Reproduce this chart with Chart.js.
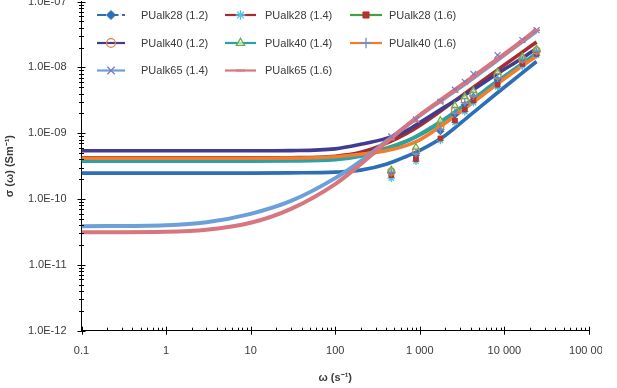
<!DOCTYPE html>
<html>
<head>
<meta charset="utf-8">
<script src="https://cdn.jsdelivr.net/npm/chart.js@4.4.1/dist/chart.umd.min.js"></script>
<style>
  html, body { margin: 0; padding: 0; background: #fff; overflow: hidden; }
  #clip { position: relative; width: 602px; height: 388px; overflow: hidden; background: #fff; }
  #wrap { position: absolute; left: 0; top: -20px; width: 640px; height: 408px; }
</style>
</head>
<body>
<div id="clip"><div id="wrap"><canvas id="c" width="640" height="408"></canvas></div></div>
<script>
// ---------- data ----------
const X_TICKS = [0.1, 1, 10, 100, 1000, 10000, 100000];
const X_TICK_LABELS = ['0.1', '1', '10', '100', '1 000', '10 000', '100 000'];
const Y_TICKS = [1e-12, 1e-11, 1e-10, 1e-9, 1e-8, 1e-7];
const Y_TICK_LABELS = ['1.0E-12', '1.0E-11', '1.0E-10', '1.0E-09', '1.0E-08', '1.0E-07'];

const SERIES_NAMES = ['PUalk28 (1.2)', 'PUalk28 (1.4)', 'PUalk28 (1.6)',
                      'PUalk40 (1.2)', 'PUalk40 (1.4)', 'PUalk40 (1.6)',
                      'PUalk65 (1.4)', 'PUalk65 (1.6)'];

// fitted curves (lines)
const OMEGA_FIT = [0.1, 1, 3, 10, 30, 100, 200, 400, 700, 1000, 2000, 4000, 8000, 16000, 24000];
const FIT_28_12 = [2.48e-10, 2.48e-10, 2.48e-10, 2.48e-10, 2.50e-10, 2.57e-10, 2.75e-10, 3.38e-10, 4.47e-10, 5.50e-10, 9.27e-10, 1.92e-9, 3.98e-9, 8.11e-9, 1.23e-8];
const FIT_28_14 = [4.23e-10, 4.23e-10, 4.23e-10, 4.23e-10, 4.25e-10, 4.47e-10, 5.13e-10, 7.01e-10, 9.93e-10, 1.31e-9, 2.45e-9, 4.66e-9, 8.85e-9, 1.68e-8, 2.43e-8];
const FIT_28_16 = [3.95e-10, 3.95e-10, 3.95e-10, 3.95e-10, 3.97e-10, 4.17e-10, 4.63e-10, 5.90e-10, 7.64e-10, 9.43e-10, 1.62e-9, 3.02e-9, 5.83e-9, 1.11e-8, 1.58e-8];
const FIT_40_12 = [5.41e-10, 5.41e-10, 5.41e-10, 5.41e-10, 5.45e-10, 5.79e-10, 6.78e-10, 8.36e-10, 1.10e-9, 1.46e-9, 2.54e-9, 4.35e-9, 7.82e-9, 1.37e-8, 1.94e-8];
const FIT_40_14 = [3.76e-10, 3.76e-10, 3.76e-10, 3.76e-10, 3.78e-10, 3.95e-10, 4.47e-10, 5.70e-10, 7.51e-10, 9.60e-10, 1.67e-9, 3.13e-9, 6.04e-9, 1.13e-8, 1.66e-8];
const FIT_40_16 = [4.17e-10, 4.17e-10, 4.17e-10, 4.17e-10, 4.19e-10, 4.40e-10, 4.79e-10, 5.41e-10, 6.55e-10, 7.93e-10, 1.43e-9, 2.77e-9, 5.44e-9, 1.04e-8, 1.49e-8];
const FIT_65_14 = [3.86e-11, 4.00e-11, 4.44e-11, 5.96e-11, 9.36e-11, 2.08e-10, 3.76e-10, 7.52e-10, 1.31e-9, 1.86e-9, 3.47e-9, 6.48e-9, 1.25e-8, 2.43e-8, 3.55e-8];
const FIT_65_16 = [3.13e-11, 3.19e-11, 3.42e-11, 4.36e-11, 7.09e-11, 1.69e-10, 3.38e-10, 7.26e-10, 1.31e-9, 1.89e-9, 3.59e-9, 6.83e-9, 1.30e-8, 2.51e-8, 3.81e-8];

// measured points (markers)
const OMEGA_MEAS = [460, 900, 1750, 2600, 3400, 4300, 8300, 16300, 24000];
const MEAS_28_12 = [2.48e-10, 4.63e-10, 1.07e-9, 1.92e-9, 2.72e-9, 3.59e-9, 6.48e-9, 1.25e-8, 1.71e-8];
const MEAS_28_14 = [2.08e-10, 3.76e-10, 7.79e-10, 1.46e-9, 2.13e-9, 2.92e-9, 5.08e-9, 1.05e-8, 1.54e-8];
const MEAS_28_16 = [2.31e-10, 4.03e-10, 8.35e-10, 1.56e-9, 2.29e-9, 3.13e-9, 5.45e-9, 1.13e-8, 1.60e-8];
const MEAS_40_12 = [2.61e-10, 5.32e-10, 1.27e-9, 2.21e-9, 3.13e-9, 3.99e-9, 7.44e-9, 1.34e-8, 1.80e-8];
const MEAS_40_14 = [2.75e-10, 6.11e-10, 1.56e-9, 2.63e-9, 3.59e-9, 4.42e-9, 8.55e-9, 1.44e-8, 1.90e-8];
const MEAS_40_16 = [2.52e-10, 4.96e-10, 1.14e-9, 2.06e-9, 2.92e-9, 3.72e-9, 6.94e-9, 1.30e-8, 1.74e-8];
const MEAS_65_14 = [8.95e-10, 1.62e-9, 3.02e-9, 4.58e-9, 6.04e-9, 7.98e-9, 1.54e-8, 2.60e-8, 3.68e-8];
const MEAS_65_16 = [8.06e-10, 1.51e-9, 2.92e-9, 4.27e-9, 5.64e-9, 7.19e-9, 1.34e-8, 2.51e-8, 3.68e-8];

// ---------- styles ----------
const FITS = [FIT_28_12, FIT_28_14, FIT_28_16, FIT_40_12, FIT_40_14, FIT_40_16, FIT_65_14, FIT_65_16];
const MEASS = [MEAS_28_12, MEAS_28_14, MEAS_28_16, MEAS_40_12, MEAS_40_14, MEAS_40_16, MEAS_65_14, MEAS_65_16];
const LINE_COLORS = ['#2C6FB6', '#A52C32', '#45A043', '#403C90', '#2BA2A6', '#F07D30', '#6BA0D8', '#D8767F'];
const LINE_WIDTHS = [3.6, 3.6, 3.6, 3.6, 3.6, 3.6, 4, 4];
const MARKERS = [
  { style: 'rectRot', r: 3.5, fill: '#2C6FB6', stroke: '#2C6FB6', bw: 1 },
  { style: 'star', r: 3.8, fill: 'rgba(0,0,0,0)', stroke: '#4DC3E6', bw: 1.3 },
  { style: 'rect', r: 3.3, fill: '#B5332E', stroke: '#B5332E', bw: 1 },
  { style: 'circle', r: 3.4, fill: 'rgba(0,0,0,0)', stroke: '#E8803A', bw: 1.3 },
  { style: 'triangle', r: 3.8, fill: 'rgba(255,255,255,0.6)', stroke: '#6AAE45', bw: 1.3 },
  { style: 'cross', r: 4.2, fill: 'rgba(0,0,0,0)', stroke: '#6690C8', bw: 1.3 },
  { style: 'crossRot', r: 4.2, fill: 'rgba(0,0,0,0)', stroke: '#7C7CC4', bw: 1.3 },
  { style: 'line', r: 3.5, fill: 'rgba(0,0,0,0)', stroke: '#D8767F', bw: 2 }
];
const FONT = '"Liberation Sans", Arial, sans-serif';
const TXT = '#3a3a3a';

const datasets = [];
FITS.forEach((arr, i) => {
  datasets.push({
    label: SERIES_NAMES[i] + ' fit',
    data: OMEGA_FIT.map((w, k) => ({ x: w, y: arr[k] })),
    showLine: true,
    borderColor: LINE_COLORS[i],
    borderWidth: LINE_WIDTHS[i],
    pointRadius: 0,
    cubicInterpolationMode: 'monotone',
    fill: false,
    order: 20 - i
  });
});
MEASS.forEach((arr, i) => {
  const m = MARKERS[i];
  datasets.push({
    label: SERIES_NAMES[i],
    data: OMEGA_MEAS.map((w, k) => ({ x: w, y: arr[k] })),
    showLine: false,
    pointStyle: m.style,
    pointRadius: m.r,
    pointBackgroundColor: m.fill,
    pointBorderColor: m.stroke,
    pointBorderWidth: m.bw,
    order: 8 - i
  });
});

// tick marks (major crossing, minor) plugin
const tickPlugin = {
  id: 'ticks',
  afterDraw(chart) {
    const ctx = chart.ctx, sx = chart.scales.x, sy = chart.scales.y, a = chart.chartArea;
    ctx.save();
    ctx.strokeStyle = '#000';
    ctx.lineWidth = 1;
    ctx.beginPath();
    for (let d = -1; d <= 4; d++) {
      for (let k = 1; k <= 9; k++) {
        const x = Math.round(sx.getPixelForValue(k * Math.pow(10, d))) + 0.5;
        if (k === 1) { ctx.moveTo(x, a.bottom - 4); ctx.lineTo(x, a.bottom + 4); }
        else { ctx.moveTo(x, a.bottom - 3); ctx.lineTo(x, a.bottom); }
      }
    }
    const xe = Math.round(sx.getPixelForValue(100000)) + 0.5;
    ctx.moveTo(xe, a.bottom - 4); ctx.lineTo(xe, a.bottom + 4);
    for (let d = -12; d <= -8; d++) {
      for (let k = 1; k <= 9; k++) {
        const y = Math.round(sy.getPixelForValue(k * Math.pow(10, d))) + 0.5;
        if (k === 1) { ctx.moveTo(a.left - 4, y); ctx.lineTo(a.left + 4, y); }
        else { ctx.moveTo(a.left - 2.5, y); ctx.lineTo(a.left + 2.5, y); }
      }
    }
    const ye = Math.round(sy.getPixelForValue(1e-7)) + 0.5;
    ctx.moveTo(a.left - 4, ye); ctx.lineTo(a.left + 4, ye);
    ctx.stroke();
    ctx.restore();
  }
};

// legend drawn inside plot area, 3 columns
const OFFY = 20;
const LEG_ROWS = [15, 43, 70.5];
const LEG_COLS = [{ x0: 97, x1: 125, tx: 141 }, { x0: 225, x1: 256, tx: 265 }, { x0: 350, x1: 382, tx: 389 }];
const legendPlugin = {
  id: 'innerLegend',
  afterDraw(chart) {
    const ctx = chart.ctx;
    ctx.save();
    SERIES_NAMES.forEach((name, i) => {
      const c = LEG_COLS[i % 3];
      const y = LEG_ROWS[Math.floor(i / 3)] + OFFY;
      ctx.strokeStyle = LINE_COLORS[i];
      ctx.lineWidth = 2.2;
      ctx.setLineDash(i === 0 ? [9, 3.5] : []);
      ctx.beginPath();
      ctx.moveTo(c.x0, y); ctx.lineTo(c.x1, y);
      ctx.stroke();
      ctx.setLineDash([]);
      const m = MARKERS[i];
      ctx.fillStyle = m.fill;
      ctx.strokeStyle = m.stroke;
      ctx.lineWidth = m.bw;
      Chart.helpers.drawPoint(ctx, { pointStyle: m.style, radius: m.r + 1, borderWidth: m.bw, rotation: 0 }, (c.x0 + c.x1) / 2, y);
      ctx.fillStyle = TXT;
      ctx.font = '11px ' + FONT;
      ctx.textBaseline = 'middle';
      ctx.textAlign = 'left';
      ctx.fillText(name, c.tx, y + 0.5);
    });
    ctx.restore();
  }
};

new Chart(document.getElementById('c'), {
  type: 'scatter',
  data: { datasets },
  options: {
    responsive: false,
    animation: false,
    devicePixelRatio: 1,
    layout: { padding: { top: 19.2, left: 0, right: 51, bottom: 0 } },
    plugins: { legend: { display: false }, tooltip: { enabled: false } },
    scales: {
      x: {
        type: 'logarithmic',
        min: 0.1, max: 100000,
        afterBuildTicks: s => { s.ticks = X_TICKS.map(v => ({ value: v })); },
        afterFit: s => { s.height = 57.3; },
        grid: { display: false, drawTicks: false },
        border: { display: true, color: '#000', width: 1 },
        ticks: {
          autoSkip: false, maxRotation: 0, padding: 14,
          color: TXT, font: { family: FONT, size: 11 },
          callback: (v, i) => X_TICK_LABELS[i]
        },
        title: {
          display: true, text: 'ω (s⁻¹)', color: TXT,
          font: { family: FONT, size: 11, weight: 'bold' },
          padding: { top: 0, bottom: 3.4 }
        }
      },
      y: {
        type: 'logarithmic',
        min: 1e-12, max: 1e-7,
        afterBuildTicks: s => { s.ticks = Y_TICKS.map(v => ({ value: v })); },
        afterFit: s => { s.width = 81.5; },
        grid: { display: false, drawTicks: false },
        border: { display: true, color: '#000', width: 1 },
        ticks: {
          autoSkip: false, padding: 15,
          color: TXT, font: { family: FONT, size: 11 },
          callback: (v, i) => Y_TICK_LABELS[i]
        },
        title: {
          display: true, text: 'σ (ω) (Sm⁻¹)', color: TXT,
          font: { family: FONT, size: 11, weight: 'bold' },
          padding: { top: 3.4, bottom: 0 }
        }
      }
    }
  },
  plugins: [tickPlugin, legendPlugin]
});
</script>
</body>
</html>
